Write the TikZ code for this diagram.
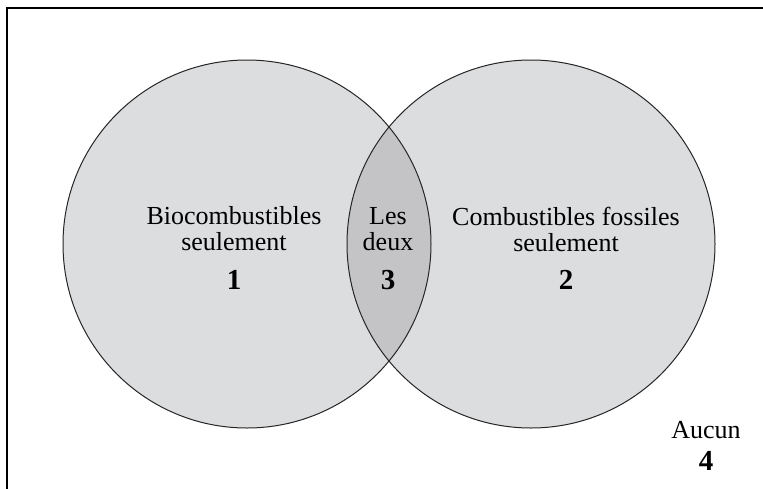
\documentclass[tikz,border=0pt]{standalone}
\usepackage{fontspec}
\setmainfont{Liberation Serif}
\usepackage{tikz}
\usetikzlibrary{positioning}
\definecolor{setx}{HTML}{DCDDDF}
\definecolor{bothx}{HTML}{C4C4C6}
\tikzset{
  st/.style={circle,draw=black!85,line width=1pt,minimum size=368pt,inner sep=0pt},
  lb/.style={align=center,inner sep=0pt,font=\fontsize{26}{26}\selectfont},
  nb/.style={inner sep=0pt,font=\fontsize{29}{30}\selectfont\bfseries}
}
\begin{document}
\begin{tikzpicture}[x=1pt,y=-1pt]
\useasboundingbox (0,0) rectangle (763,488);
\draw[line width=1.4pt] (7,8) rectangle (775,500);
% both sets, then the overlap
\fill[setx] (247,244) circle[radius=184pt] (531,244) circle[radius=184pt];
\begin{scope}
\clip (247,244) circle[radius=184pt];
\fill[bothx] (531,244) circle[radius=184pt];
\end{scope}
\node[st] (bio) at (247,244) {};
\node[st] (fos) at (531,244) {};
\node[lb] (l1) at (234,229) {Biocombustibles\\seulement};
\node[lb] (l3) at (388,229) {Les\\deux};
\node[lb] (l2) at (566,229) {Combustibles fossiles\\seulement};
\node[nb] (n1) at (234,280) {1};
\node[nb] (n3) at (388,280) {3};
\node[nb] (n2) at (566,280) {2};
\node[lb] (l4) at (706,430) {Aucun};
\node[nb] (n4) at (706,461) {4};
\end{tikzpicture}
\end{document}
